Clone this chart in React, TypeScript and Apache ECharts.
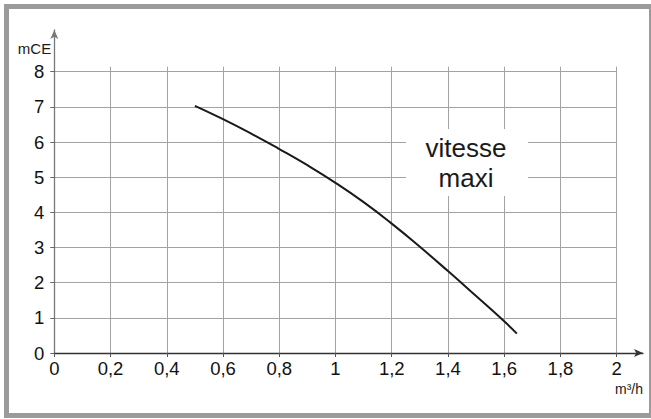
import React, { useEffect, useRef } from "react";
import * as echarts from "echarts";

const flowValues = [0.5, 0.6, 0.7, 0.8, 0.9, 1.0, 1.1, 1.2, 1.3, 1.4, 1.5, 1.6, 1.645];
const headValues = [7.03, 6.65, 6.24, 5.8, 5.34, 4.84, 4.29, 3.68, 3.02, 2.33, 1.62, 0.9, 0.55];
const yUnit = "mCE";
const xUnit = "m³/h";
const curveLabel = "vitesse\nmaxi";

const FONT = "'Liberation Sans', Arial, sans-serif";

export default function App() {
  const ref = useRef<HTMLDivElement>(null);
  useEffect(() => {
    if (!ref.current) return;
    const chart = echarts.init(ref.current, null, { renderer: "svg" });
    const L = 54.3;
    const R = 616.7;
    const B = 353;
    const gridColor = "#a3a3a3";
    const fmt = (v: number) => String(+v.toFixed(1)).replace(".", ",");
    chart.setOption({
      animation: false,
      backgroundColor: "#ffffff",
      grid: [
        { left: L, top: 66.7, width: R - L, height: B - 66.7 },
        { left: L, top: 71.7, width: R - L, height: B - 71.7 },
        { left: L, top: 30, width: 643 - L, height: B - 30 },
      ],
      xAxis: [
        {
          gridIndex: 0,
          type: "value",
          min: 0,
          max: 2,
          interval: 0.2,
          axisLine: { show: false },
          axisTick: { show: true, length: 4, lineStyle: { color: "#555" } },
          axisLabel: {
            formatter: fmt,
            fontSize: 18.5,
            fontFamily: FONT,
            color: "#111",
            margin: 6,
            showMinLabel: true,
            showMaxLabel: true,
          },
          splitLine: { show: true, lineStyle: { color: gridColor, width: 1 } },
        },
        { gridIndex: 1, type: "value", min: 0, max: 2, show: false },
        {
          gridIndex: 2,
          type: "value",
          min: 0,
          max: 1,
          axisLine: {
            show: true,
            symbol: ["none", "arrow"],
            symbolSize: [6, 9],
            lineStyle: { color: "#333", width: 1.3 },
          },
          axisTick: { show: false },
          axisLabel: { show: false },
          splitLine: { show: false },
        },
      ],
      yAxis: [
        { gridIndex: 0, type: "value", min: 0, max: 8.142, show: false },
        {
          gridIndex: 1,
          type: "value",
          min: 0,
          max: 8,
          interval: 1,
          axisLine: { show: false },
          axisTick: { show: true, length: 4, lineStyle: { color: "#666" } },
          axisLabel: {
            fontSize: 18.5,
            fontFamily: FONT,
            color: "#111",
            margin: 10,
          },
          splitLine: { show: true, lineStyle: { color: gridColor, width: 1 } },
        },
        {
          gridIndex: 2,
          type: "value",
          min: 0,
          max: 1,
          axisLine: {
            show: true,
            symbol: ["none", "arrow"],
            symbolSize: [6, 9],
            lineStyle: { color: "#777", width: 1.3 },
          },
          axisTick: { show: false },
          axisLabel: { show: false },
          splitLine: { show: false },
        },
      ],
      series: [
        {
          type: "line",
          xAxisIndex: 1,
          yAxisIndex: 1,
          smooth: 0.5,
          showSymbol: false,
          symbol: "none",
          lineStyle: { color: "#1a1a1a", width: 2 },
          data: flowValues.map((x, i) => [x, headValues[i]]),
          z: 5,
        },
      ],
      graphic: [
        {
          type: "rect",
          z: 0,
          silent: true,
          shape: { x: 6.5, y: 6.5, width: 645, height: 409 },
          style: { fill: "none", stroke: "#9b9b9b", lineWidth: 5 },
        },
        {
          type: "rect",
          z: 10,
          shape: { x: 406, y: 129, width: 122, height: 67 },
          style: { fill: "#ffffff" },
        },
        {
          type: "text",
          z: 11,
          x: 466,
          y: 163,
          style: {
            text: curveLabel,
            fontSize: 26,
            lineHeight: 30,
            fontFamily: FONT,
            fill: "#1a1a1a",
            align: "center",
            verticalAlign: "middle",
          },
        },
        {
          type: "text",
          z: 11,
          x: 34.5,
          y: 48,
          style: {
            text: yUnit,
            fontSize: 15,
            fontFamily: FONT,
            fill: "#1a1a1a",
            align: "center",
            verticalAlign: "middle",
          },
        },
        {
          type: "text",
          z: 11,
          x: 643,
          y: 389,
          style: {
            text: xUnit,
            fontSize: 14,
            fontFamily: FONT,
            fill: "#1a1a1a",
            align: "right",
            verticalAlign: "middle",
          },
        },
      ],
    });
    return () => chart.dispose();
  }, []);
  return (
    <div
      ref={ref}
      style={{ position: "fixed", left: 0, top: 0, width: 651, height: 419 }}
    />
  );
}
